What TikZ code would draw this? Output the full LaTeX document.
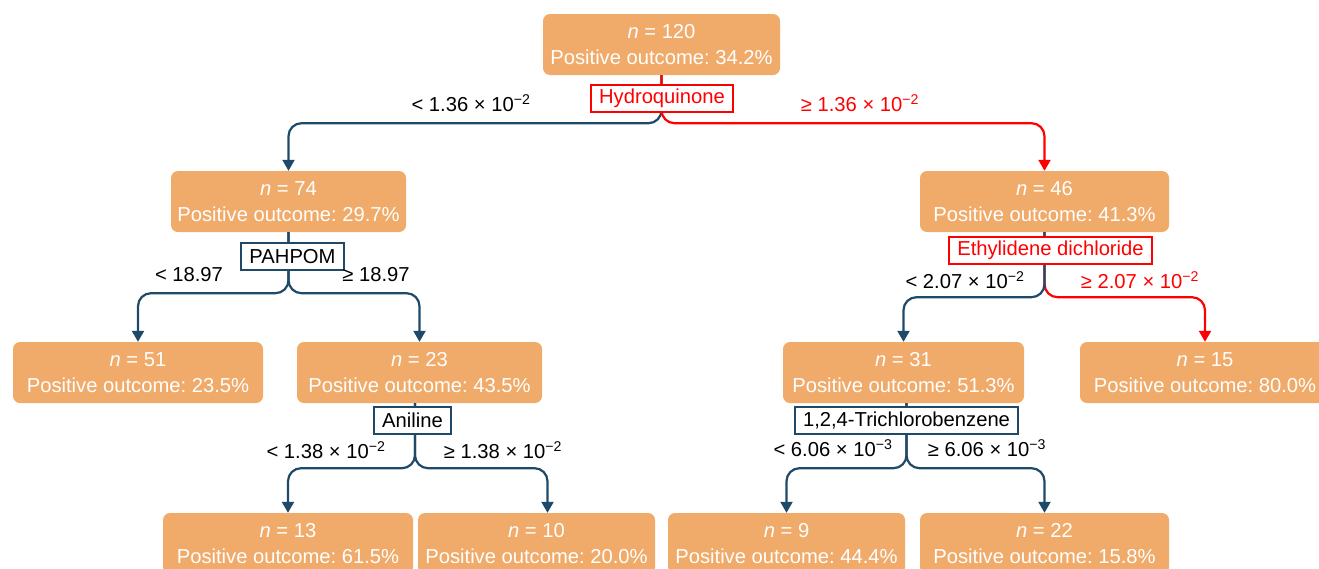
\documentclass[tikz,border=0pt]{standalone}
\usepackage{fontspec}
\setmainfont{Liberation Sans}
\usetikzlibrary{arrows.meta}
\definecolor{boxor}{RGB}{240,170,105}
\definecolor{dblue}{RGB}{31,73,104}
\definecolor{rred}{RGB}{255,0,0}
\frenchspacing
\begin{document}
\begin{tikzpicture}[x=1pt,y=-1pt,
  leaf/.style={fill=boxor,text=white,rounded corners=7pt,minimum height=61pt,inner sep=0pt,align=center,font=\fontsize{20.2}{26}\selectfont},
  splitd/.style={draw=dblue,line width=2pt,fill=white,text=black,minimum height=27pt,inner ysep=0pt,inner xsep=8pt,font=\fontsize{20.2}{24}\selectfont},
  splitr/.style={draw=rred,line width=2pt,fill=white,text=rred,minimum height=27pt,inner ysep=0pt,inner xsep=8pt,font=\fontsize{20.2}{24}\selectfont},
  cond/.style={inner sep=0pt,font=\fontsize{20.2}{24}\selectfont},
  edged/.style={draw=dblue,line width=2.2pt,rounded corners=13pt,-{Triangle[width=12pt,length=11pt]}},
  edger/.style={draw=rred,line width=2.2pt,rounded corners=13pt,-{Triangle[width=12pt,length=11pt]}}
]
\useasboundingbox (0,0) rectangle (1319,568);

% outcome boxes
\node[leaf,minimum width=237pt] (root) at (661.5,44.5) {{\itshape n} = 120\\Positive outcome: 34.2\%};
\node[leaf,minimum width=235pt] (a) at (288.5,201.5) {{\itshape n} = 74\\Positive outcome: 29.7\%};
\node[leaf,minimum width=249pt] (b) at (1044.5,201.5) {{\itshape n} = 46\\Positive outcome: 41.3\%};
\node[leaf,minimum width=250pt] (a1) at (138,372.5) {{\itshape n} = 51\\Positive outcome: 23.5\%};
\node[leaf,minimum width=245pt] (a2) at (419.5,372.5) {{\itshape n} = 23\\Positive outcome: 43.5\%};
\node[leaf,minimum width=241pt] (b1) at (903.5,372.5) {{\itshape n} = 31\\Positive outcome: 51.3\%};
\node[leaf,minimum width=250pt] (b2) at (1205,372.5) {{\itshape n} = 15\\Positive outcome: 80.0\%};
\node[leaf,minimum width=250pt] (a21) at (288,543.5) {{\itshape n} = 13\\Positive outcome: 61.5\%};
\node[leaf,minimum width=237pt] (a22) at (536.5,543.5) {{\itshape n} = 10\\Positive outcome: 20.0\%};
\node[leaf,minimum width=237pt] (b11) at (786.5,543.5) {{\itshape n} = 9\\Positive outcome: 44.4\%};
\node[leaf,minimum width=249pt] (b12) at (1044.5,543.5) {{\itshape n} = 22\\Positive outcome: 15.8\%};

% connectors
\draw[edged] (root.south) -- ++(0,48) -| (a.north);
\draw[edger] (root.south) -- ++(0,48) -| (b.north);
\draw[edged] (a.south) -- ++(0,61) -| (a1.north);
\draw[edged] (a.south) -- ++(0,61) -| (a2.north);
\draw[edger] (b.south) -- ++(0,65) -| (b2.north);
\draw[edged] (b.south) -- ++(0,65) -| (b1.north);
\draw[edged] ([xshift=-4.5pt]a2.south) -- ++(0,65) -| (a21.north);
\draw[edged] ([xshift=-4.5pt]a2.south) -- ++(0,65) -| ([xshift=11pt]a22.north);
\draw[edged] ([xshift=3pt]b1.south) -- ++(0,65) -| (b11.north);
\draw[edged] ([xshift=3pt]b1.south) -- ++(0,65) -| (b12.north);

% split variables
\node[splitr] (s0) at (662,98.5) {Hydroquinone};
\node[splitd] (s1) at (292.5,256.5) {PAHPOM};
\node[splitr] (s2) at (1050.5,250.5) {Ethylidene dichloride};
\node[splitd] (s3) at (412.5,420) {Aniline};
\node[splitd] (s4) at (906.5,420) {1,2,4-Trichlorobenzene};

% conditions
\node[cond] (c0l) at (471,103) {< 1.36 × 10\textsuperscript{−2}};
\node[cond,text=rred] (c0r) at (860,103) {≥ 1.36 × 10\textsuperscript{−2}};
\node[cond] (c1l) at (189,275) {< 18.97};
\node[cond] (c1r) at (376,275) {≥ 18.97};
\node[cond] (c2l) at (965,280) {< 2.07 × 10\textsuperscript{−2}};
\node[cond,text=rred] (c2r) at (1140,280) {≥ 2.07 × 10\textsuperscript{−2}};
\node[cond] (c3l) at (326,450) {< 1.38 × 10\textsuperscript{−2}};
\node[cond] (c3r) at (503,450) {≥ 1.38 × 10\textsuperscript{−2}};
\node[cond] (c4l) at (833,448) {< 6.06 × 10\textsuperscript{−3}};
\node[cond] (c4r) at (987,448) {≥ 6.06 × 10\textsuperscript{−3}};
\end{tikzpicture}
\end{document}
